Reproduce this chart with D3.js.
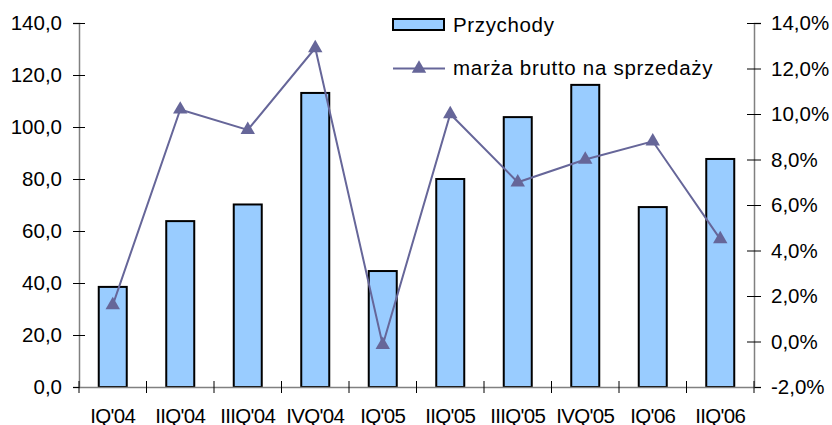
<!DOCTYPE html>
<html><head><meta charset="utf-8">
<script src="https://cdn.jsdelivr.net/npm/d3@7"></script>
<style>body{margin:0;background:#fff;}svg{display:block;font-family:"Liberation Sans",Arial,sans-serif;}</style>
</head><body>
<svg id="c" width="832" height="425"></svg>
<script>
const categories = ["IQ'04","IIQ'04","IIIQ'04","IVQ'04","IQ'05","IIQ'05","IIIQ'05","IVQ'05","IQ'06","IIQ'06"];
const revenue = [38.5, 63.8, 70.2, 113.1, 44.6, 80.0, 103.8, 116.2, 69.2, 87.7];
const margin = [1.6, 10.2, 9.3, 12.9, -0.15, 10.0, 7.0, 8.0, 8.8, 4.5];
const leftTicks = [0,20,40,60,80,100,120,140];
const rightTicks = [-2,0,2,4,6,8,10,12,14];
const seriesNames = ["Przychody","marża brutto na sprzedaży"];

const svg = d3.select("#c");
const L = 79, R = 754, T = 23, B = 387;
const x = d3.scaleBand().domain(categories).range([L, R]);
const yL = d3.scaleLinear().domain([0,140]).range([B, T]);
const yR = d3.scaleLinear().domain([-2,14]).range([B, T]);
const fmt1 = d => d.toFixed(1).replace(".", ",");
const fs = 20.5;

// bars
const bw = 28;
svg.append("g").selectAll("rect").data(revenue).join("rect")
  .attr("x", (d,i) => x(categories[i]) + x.bandwidth()/2 - bw/2)
  .attr("y", d => yL(d)).attr("width", bw).attr("height", d => B - yL(d))
  .attr("fill", "#99ccff").attr("stroke", "#000").attr("stroke-width", 2);

// axes
const axisCol = "#808080";
const gL = svg.append("g").attr("transform", `translate(${L},0)`)
  .call(d3.axisLeft(yL).tickValues(leftTicks).tickFormat(fmt1).tickSize(6).tickPadding(11));
gL.selectAll(".tick line").attr("x1", 6);
const gR = svg.append("g").attr("transform", `translate(${R},0)`)
  .call(d3.axisRight(yR).tickValues(rightTicks).tickFormat(d => fmt1(d) + "%").tickSize(7).tickPadding(10));
gR.selectAll(".tick line").attr("x1", -7);
const gB = svg.append("g").attr("transform", `translate(0,${B})`)
  .call(d3.axisBottom(x).tickSize(0).tickPadding(21));
gB.selectAll("text").attr("letter-spacing", "-0.7px");
// bottom ticks at band boundaries
svg.append("g").selectAll("line").data(d3.range(categories.length + 1)).join("line")
  .attr("x1", i => L + i * x.step()).attr("x2", i => L + i * x.step())
  .attr("y1", B - 6).attr("y2", B + 6).attr("stroke", "#000").attr("stroke-width", 1);

[gL, gR, gB].forEach(g => {
  g.select(".domain").attr("stroke", axisCol).attr("stroke-width", 1.5);
  g.selectAll(".tick line").attr("stroke", "#000");
  g.selectAll("text").attr("font-size", fs).attr("fill", "#000").attr("font-family", "Liberation Sans, Arial, sans-serif");
});

// line
const lineCol = "#666699";
const line = d3.line().x((d,i) => x(categories[i]) + x.bandwidth()/2).y(d => yR(d));
svg.append("path").datum(margin).attr("d", line).attr("fill", "none")
  .attr("stroke", lineCol).attr("stroke-width", 2);
const tri = d3.symbol().type(d3.symbolTriangle).size(90);
svg.append("g").selectAll("path").data(margin).join("path")
  .attr("transform", (d,i) => `translate(${x(categories[i]) + x.bandwidth()/2},${yR(d)})`)
  .attr("d", tri).attr("fill", lineCol);

// legend
const lg = svg.append("g");
lg.append("rect").attr("x", 393).attr("y", 19).attr("width", 51).attr("height", 11)
  .attr("fill", "#99ccff").attr("stroke", "#000").attr("stroke-width", 2);
lg.append("text").attr("x", 453).attr("y", 32).text(seriesNames[0])
  .attr("font-size", fs).attr("letter-spacing", "0.65px");
lg.append("line").attr("x1", 393).attr("x2", 445).attr("y1", 68.5).attr("y2", 68.5)
  .attr("stroke", lineCol).attr("stroke-width", 2);
lg.append("path").attr("transform", "translate(419,68.5)").attr("d", tri).attr("fill", lineCol);
lg.append("text").attr("x", 453).attr("y", 75).text(seriesNames[1])
  .attr("font-size", fs).attr("letter-spacing", "0.7px");
</script>
</body></html>
